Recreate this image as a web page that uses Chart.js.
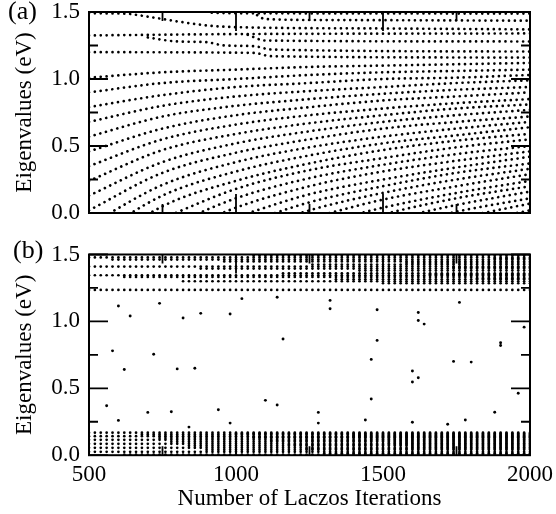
<!DOCTYPE html>
<html>
<head>
<meta charset="utf-8">
<title>Eigenvalues vs. Lanczos iterations</title>
<script src="https://cdn.jsdelivr.net/npm/chart.js@4.4.1/dist/chart.umd.min.js"></script>
<style>
  html, body { margin: 0; padding: 0; background: #fff; }
  #fig { position: relative; width: 556px; height: 514px; }
  #fig canvas { position: absolute; left: 0; }
</style>
</head>
<body>
<div id="fig">
  <canvas id="panelA" width="556" height="236" style="top:0"></canvas>
  <canvas id="panelB" width="556" height="278" style="top:236px"></canvas>
</div>
<script>
// Iteration counts at which the spectrum was sampled (one column of dots each)
const COLUMN_ITERS = [500,520,540,560,580,600,620,640,660,680,700,720,740,760,780,800,820,840,860,880,
  900,920,940,960,980,1000,1020,1040,1060,1080,1100,1120,1140,1160,1180,1200,1220,1240,1260,1280,
  1300,1320,1340,1360,1380,1400,1420,1440,1460,1480,1500,1520,1540,1560,1580,1600,1620,1640,1660,1680,
  1700,1720,1740,1760,1780,1800,1820,1840,1860,1880,1900,1920,1940,1960,1980,2000];

// Axis ticks
const X_MAJOR = [500, 1000, 1500, 2000];
const X_MINOR = [750, 1250, 1750];
const Y_MAJOR = [0, 0.5, 1.0, 1.5];
const Y_MINOR = [0.25, 0.75, 1.25];

// (a) Ritz values of the full Lanczos matrix (eV), read at these iterations
const FAN_ITERS = [500, 750, 1000, 1250, 1500, 1750, 2000];
const fanEnergies = [
  [1.01, 1.05, 1.07, 1.09, 1.10, 1.11, 1.12],
  [0.90, 0.97, 1.00, 1.03, 1.05, 1.06, 1.07],
  [0.79, 0.88, 0.94, 0.97, 1.00, 1.01, 1.03],
  [0.68, 0.80, 0.87, 0.91, 0.94, 0.97, 0.99],
  [0.57, 0.72, 0.80, 0.85, 0.89, 0.92, 0.94],
  [0.46, 0.63, 0.73, 0.79, 0.84, 0.87, 0.90],
  [0.35, 0.55, 0.66, 0.73, 0.78, 0.82, 0.85],
  [0.24, 0.47, 0.59, 0.67, 0.73, 0.78, 0.81],
  [0.13, 0.38, 0.52, 0.61, 0.68, 0.73, 0.77],
  [0.02, 0.30, 0.45, 0.55, 0.63, 0.68, 0.72],
  [-0.09, 0.21, 0.38, 0.49, 0.57, 0.63, 0.68],
  [-0.20, 0.13, 0.31, 0.43, 0.52, 0.58, 0.64],
  [-0.31, 0.05, 0.24, 0.37, 0.47, 0.54, 0.59],
  [null, -0.04, 0.18, 0.32, 0.41, 0.49, 0.55],
  [null, -0.12, 0.11, 0.26, 0.36, 0.44, 0.50],
  [null, -0.20, 0.04, 0.20, 0.31, 0.39, 0.46],
  [null, null, -0.03, 0.14, 0.25, 0.34, 0.42],
  [null, null, -0.10, 0.08, 0.20, 0.30, 0.37],
  [null, null, -0.17, 0.02, 0.15, 0.25, 0.33],
  [null, null, null, -0.04, 0.10, 0.20, 0.29],
  [null, null, null, -0.10, 0.04, 0.15, 0.24],
  [null, null, null, -0.16, -0.01, 0.11, 0.20],
  [null, null, null, null, -0.06, 0.06, 0.16],
  [null, null, null, null, -0.12, 0.01, 0.11],
  [null, null, null, null, null, -0.04, 0.07],
  [null, null, null, null, null, -0.09, 0.02]
];

// (a) converged upper levels: [iteration, eV]
const levelA = [[500,1.49],[620,1.488],[700,1.465],[800,1.43],[900,1.40],[1000,1.387],[1500,1.377],[2000,1.37]];
const levelB = [[860,1.53],[920,1.494],[1100,1.49],[2000,1.488]];
const levelC = [[1040,1.53],[1100,1.448],[1300,1.44],[2000,1.435]];
const levelD = [[500,1.325],[1000,1.335],[2000,1.34]];
const levelE = [[700,1.31],[800,1.28],[900,1.275],[960,1.25],[1060,1.245],[1120,1.22],[2000,1.205]];
const levelF = [[500,1.20],[1060,1.195],[1120,1.17],[2000,1.16]];
const levelG = [[1040,1.33],[1100,1.287],[2000,1.28]];

// (b) bands of the filtered spectrum: [eV, first iteration present]
const lowBand = [[0.168,500],[0.142,500],[0.115,500],[0.085,500],[0.055,500],[0.025,500],
  [0.005,620],[0.155,680],[0.128,740],[0.100,780],[0.070,840],[0.040,900],
  [0.162,1000],[0.135,1060],[0.108,1120],[0.078,1180],[0.048,1240],[0.015,1300],
  [0.148,1400],[0.121,1460],[0.092,1520],[0.062,1600]];
const highBand = [[1.478,500],[1.41,500],[1.345,500],[1.235,500],
  [1.462,580],[1.332,620],[1.30,820],[1.395,880],[1.448,960],[1.492,1060],
  [1.36,1160],[1.425,1260],[1.315,1340],[1.38,1420],[1.285,1500],[1.437,1580],
  [1.352,1660],[1.405,1740],[1.322,1820],[1.47,1880]];

// (b) isolated eigenvalues inside the gap
const strayIters = [560,580,600,600,620,640,700,720,740,780,800,820,840,860,880,940,980,980,1020,1100,
  1140,1140,1160,1280,1280,1320,1320,1440,1460,1460,1480,1480,1600,1600,1600,1620,1620,1620,1640,1720,
  1740,1760,1780,1800,1880,1900,1900,1960,1980];
const strayEnergies = [0.37,0.78,1.115,0.26,0.64,1.04,0.32,0.755,1.135,0.325,0.645,1.025,0.21,0.65,1.06,0.34,1.055,0.24,1.17,0.41,
  1.18,0.375,0.868,0.32,0.24,1.157,1.094,0.263,0.716,0.42,1.087,0.858,0.629,0.547,0.246,0.579,1.067,1.007,0.98,0.231,
  0.701,1.142,0.263,0.696,0.321,0.84,0.82,0.463,0.957];

const FONT = '"Liberation Serif", "Times New Roman", serif';

// pixel distance between two neighbouring sample columns
function columnPitch(chart) {
  const s = chart.scales.x;
  return Math.abs(s.getPixelForValue(COLUMN_ITERS[1]) - s.getPixelForValue(COLUMN_ITERS[0]));
}

// dotted curve: one round dot per sample column
const dotted = {
  showLine: true,
  fill: false,
  pointRadius: 0,
  pointHoverRadius: 0,
  borderColor: '#000',
  borderWidth: 2.7,
  borderCapStyle: 'round',
  cubicInterpolationMode: 'monotone',
  clip: 0,
  borderDash: ctx => {
    const sp = columnPitch(ctx.chart);
    return [0.001, sp - 0.001];
  },
  borderDashOffset: ctx => {
    const sp = columnPitch(ctx.chart);
    const s = ctx.chart.scales.x;
    const first = ctx.dataset.data[0].x;
    const px0 = s.getPixelForValue(first);
    const g0 = s.getPixelForValue(COLUMN_ITERS[0]);
    const t1 = (((g0 - px0) % sp) + sp) % sp;
    return (sp - t1) % sp;
  }
};

// frame, inward ticks and panel letter
const frameTicks = {
  id: 'frameTicks',
  afterDatasetsDraw(chart, args, opts) {
    const { ctx, chartArea: a, scales: { x, y } } = chart;
    ctx.save();
    ctx.strokeStyle = '#000';
    ctx.lineWidth = 1.8;
    ctx.beginPath();
    const tx = (v, len) => {
      const p = x.getPixelForValue(v);
      ctx.moveTo(p, a.bottom); ctx.lineTo(p, a.bottom - len);
      ctx.moveTo(p, a.top); ctx.lineTo(p, a.top + len);
    };
    const ty = (v, len) => {
      const p = y.getPixelForValue(v);
      ctx.moveTo(a.left, p); ctx.lineTo(a.left + len, p);
      ctx.moveTo(a.right, p); ctx.lineTo(a.right - len, p);
    };
    X_MAJOR.forEach(v => tx(v, 19));
    X_MINOR.forEach(v => tx(v, 9));
    Y_MAJOR.forEach(v => ty(v, 19));
    Y_MINOR.forEach(v => ty(v, 9));
    ctx.stroke();
    ctx.lineWidth = 2;
    ctx.strokeRect(a.left, a.top, a.right - a.left, a.bottom - a.top);
    ctx.fillStyle = '#000';
    ctx.font = '26px ' + FONT;
    ctx.textAlign = 'left';
    ctx.textBaseline = 'alphabetic';
    ctx.fillText(opts.label, opts.labelX, opts.labelY);
    ctx.restore();
  }
};

// the plot frame is placed by the layout padding alone
function noLabelPadding(s) {
  s.paddingTop = 0;
  s.paddingBottom = 0;
  s.paddingLeft = 0;
  s.paddingRight = 0;
}

function yScale() {
  return {
    min: 0,
    max: 1.5,
    afterFit: s => { s.width = 89; noLabelPadding(s); },
    grid: { display: false, drawTicks: false },
    border: { display: false },
    ticks: {
      stepSize: 0.5,
      padding: 9,
      color: '#000',
      font: { family: FONT, size: 23, lineHeight: 1 },
      callback: v => Number(v).toFixed(1)
    },
    title: {
      display: true,
      text: 'Eigenvalues (eV)',
      color: '#000',
      font: { family: FONT, size: 23, lineHeight: 1 },
      padding: { top: 13, bottom: 0 }
    }
  };
}

// ---- panel (a)
const curvesA = [
  ...fanEnergies.map(row => FAN_ITERS.map((n, i) => ({ x: n, y: row[i] })).filter(p => p.y !== null)),
  ...[levelA, levelB, levelC, levelD, levelE, levelF, levelG].map(l => l.map(([n, e]) => ({ x: n, y: e })))
];

new Chart(document.getElementById('panelA'), {
  type: 'line',
  data: { datasets: curvesA.map(pts => Object.assign({ data: pts }, dotted)) },
  options: {
    responsive: false,
    animation: false,
    events: [],
    layout: { padding: { top: 12, right: 26, bottom: 23, left: 0 } },
    plugins: {
      legend: { display: false },
      tooltip: { enabled: false },
      frameTicks: { label: '(a)', labelX: 8, labelY: 19 }
    },
    scales: {
      x: { type: 'linear', min: 500, max: 2000, display: false },
      y: yScale()
    }
  },
  plugins: [frameTicks]
});

// ---- panel (b)
function bandPoints(levels) {
  const pts = [];
  for (const n of COLUMN_ITERS) {
    for (const [e, from] of levels) {
      if (n >= from) pts.push({ x: n, y: e });
    }
  }
  return pts;
}

const dot = { pointStyle: 'circle', backgroundColor: '#000', borderWidth: 0, pointHoverRadius: 0, clip: 1 };

new Chart(document.getElementById('panelB'), {
  type: 'scatter',
  data: {
    datasets: [
      Object.assign({ data: bandPoints(lowBand), pointRadius: 1.35 }, dot),
      Object.assign({ data: bandPoints(highBand), pointRadius: 1.35 }, dot),
      Object.assign({ data: strayIters.map((n, i) => ({ x: n, y: strayEnergies[i] })), pointRadius: 1.45 }, dot)
    ]
  },
  options: {
    responsive: false,
    animation: false,
    events: [],
    layout: { padding: { top: 18.5, right: 26, bottom: 0, left: 0 } },
    plugins: {
      legend: { display: false },
      tooltip: { enabled: false },
      frameTicks: { label: '(b)', labelX: 13, labelY: 21.5 }
    },
    scales: {
      x: {
        type: 'linear',
        min: 500,
        max: 2000,
        afterFit: s => { s.height = 58.8; noLabelPadding(s); },
        grid: { display: false, drawTicks: false },
        border: { display: false },
        ticks: {
          stepSize: 500,
          padding: 8,
          color: '#000',
          font: { family: FONT, size: 23, lineHeight: 1 },
          callback: v => String(v)
        },
        title: {
          display: true,
          text: 'Number of Laczos Iterations',
          color: '#000',
          font: { family: FONT, size: 23, lineHeight: 1 },
          padding: { top: 0, bottom: 3.6 }
        }
      },
      y: yScale()
    }
  },
  plugins: [frameTicks]
});
</script>
</body>
</html>
